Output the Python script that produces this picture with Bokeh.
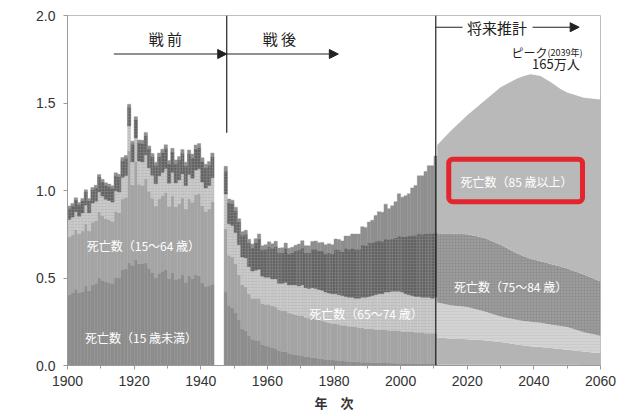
from bokeh.plotting import figure
from bokeh.models import (ColumnDataSource, Range1d, FixedTicker, NumeralTickFormatter,
                          Label, Arrow, NormalHead, BoxAnnotation, Span)
from bokeh.transform import stack
from bokeh.embed import file_html
from bokeh.resources import INLINE

# ---------------- data (millions of deaths) ----------------
pre_years = list(range(1900, 1944))
pre_u15 = [.404, .414, .436, .415, .423, .454, .426, .461, .468, .502, .487, .477, .473, .468, .503,
           .500, .546, .551, .588, .573, .605, .581, .580, .587, .556, .531, .501, .527, .539, .549,
           .495, .528, .489, .497, .517, .476, .511, .497, .517, .515, .473, .451, .454, .465]
pre_15_64 = [.330, .333, .340, .336, .345, .355, .342, .358, .360, .375, .368, .362, .360, .356, .378,
             .375, .405, .410, .640, .460, .560, .455, .450, .480, .440, .425, .410, .425, .430, .440,
             .415, .440, .420, .428, .440, .418, .442, .436, .460, .468, .440, .430, .440, .470]
pre_65_74 = [.100, .101, .103, .102, .104, .108, .104, .109, .110, .115, .113, .111, .110, .110, .117,
             .116, .124, .125, .140, .130, .135, .132, .133, .137, .133, .131, .128, .133, .135, .137,
             .132, .137, .134, .135, .138, .134, .138, .137, .140, .141, .136, .134, .135, .138]
pre_75_84 = [.065, .066, .068, .066, .070, .074, .070, .076, .078, .085, .082, .080, .080, .079, .088,
             .087, .097, .098, .108, .102, .105, .104, .106, .110, .108, .106, .104, .110, .113, .116,
             .110, .116, .112, .114, .118, .113, .119, .117, .121, .122, .116, .113, .115, .118]
pre_85 = [.012, .012, .012, .012, .013, .013, .013, .013, .014, .014, .014, .014, .014, .014, .015,
          .015, .016, .016, .017, .017, .017, .017, .018, .018, .018, .018, .018, .019, .019, .019,
          .019, .020, .020, .020, .021, .021, .021, .021, .022, .022, .022, .022, .022, .023]

post_years = list(range(1947, 2011))
post_u15 = [.42, .34, .33, .30, .26, .21, .20, .17, .15, .145, .14, .12, .115, .11, .10, .095, .085,
            .08, .08, .07, .065, .06, .058, .055, .05, .048, .046, .044, .04, .038, .035, .033, .031,
            .03, .028, .026, .025, .023, .022, .021, .02, .019, .018, .018, .017, .016, .016, .015,
            .015, .014, .013, .013, .012, .012, .011, .011, .011, .010, .010, .010, .009, .009, .009, .008]
post_15_64 = [.36, .29, .29, .28, .26, .25, .25, .24, .235, .24, .245, .235, .235, .24, .24, .24, .235,
              .235, .235, .23, .23, .23, .227, .23, .225, .222, .224, .221, .22, .217, .215, .212, .209,
              .21, .207, .204, .205, .202, .203, .199, .195, .196, .192, .192, .193, .189, .189, .19,
              .19, .186, .187, .187, .188, .183, .184, .184, .184, .18, .18, .18, .176, .176, .176, .177]
post_65_74 = [.20, .18, .18, .18, .17, .16, .165, .155, .155, .16, .165, .155, .155, .155, .155, .16, .15,
              .155, .16, .16, .165, .17, .17, .175, .17, .17, .175, .175, .175, .175, .17, .17, .17,
              .17, .17, .17, .165, .165, .165, .165, .17, .175, .18, .185, .19, .20, .205, .205,
              .215, .22, .225, .225, .225, .225, .215, .21, .205, .205, .205, .20, .205, .205, .20, .205]
post_75_84 = [.13, .12, .125, .125, .13, .125, .135, .135, .135, .155, .175, .15, .16, .175, .175, .185,
              .175, .175, .195, .18, .185, .195, .205, .215, .20, .205, .22, .225, .22, .225, .22, .23,
              .23, .255, .255, .25, .275, .275, .28, .28, .28, .30, .295, .305, .30, .305, .305, .30,
              .305, .30, .30, .305, .315, .315, .325, .335, .345, .35, .36, .36, .365, .365, .37, .37]
post_85 = [.028, .021, .020, .020, .019, .020, .023, .021, .019, .025, .027, .024, .025, .027, .026,
           .030, .026, .028, .030, .030, .031, .032, .034, .038, .040, .039, .044, .046, .047, .048,
           .050, .051, .050, .058, .060, .062, .070, .075, .082, .086, .086, .103, .104, .120, .130,
           .147, .164, .166, .197, .176, .188, .206, .242, .227, .235, .242, .270, .284, .329, .334,
           .353, .387, .387, .437]

fut_years = [2011, 2015, 2020, 2025, 2030, 2035, 2037, 2039, 2042, 2045, 2048, 2050, 2055, 2060]
fut_u15 = [.006, .006, .005, .005, .005, .004, .004, .004, .004, .004, .004, .004, .003, .003]
fut_15_64 = [.154, .149, .145, .140, .130, .116, .111, .106, .102, .096, .090, .086, .077, .067]
fut_65_74 = [.200, .190, .185, .165, .145, .140, .140, .140, .138, .135, .132, .130, .110, .100]
fut_75_84 = [.395, .410, .415, .420, .410, .380, .370, .360, .352, .345, .340, .335, .330, .310]
fut_85 = [.505, .585, .680, .780, .900, 1.000, 1.030, 1.055, 1.059, 1.040, 1.014, 1.005, 1.010, 1.040]

x_ticks = list(range(1900, 2061, 20))
y_ticks = [0.0, 0.5, 1.0, 1.5, 2.0]

layers = ["u15", "a15", "a65", "a75", "a85"]
past_colors = ["#8d8d8d", "#a4a4a4", "#c7c7c7", "#626262", "#8f8f8f"]
fut_colors = ["#a9a9a9", "#b4b4b4", "#d3d3d3", "#9c9c9c", "#b9b9b9"]
hatch = [dict(), dict(),
         dict(hatch_pattern="-", hatch_color="#a8a8a8", hatch_alpha=0.6, hatch_scale=3, hatch_weight=0.6),
         dict(hatch_pattern="+", hatch_color="#9a9a9a", hatch_alpha=0.6, hatch_scale=3, hatch_weight=0.6),
         dict()]
fut_hatch = [dict(), dict(),
             dict(hatch_pattern="-", hatch_color="#bdbdbd", hatch_alpha=0.6, hatch_scale=3, hatch_weight=0.6),
             dict(hatch_pattern="+", hatch_color="#7d7d7d", hatch_alpha=0.5, hatch_scale=3, hatch_weight=0.6),
             dict()]

# ---------------- figure ----------------
p = figure(width=624, height=414, output_backend="svg", toolbar_location=None,
           x_range=Range1d(1900, 2060), y_range=Range1d(0, 2.0),
           min_border_left=67, min_border_right=24, min_border_top=15, min_border_bottom=49)
p.grid.visible = False
p.outline_line_color = "#bdbdbd"
p.background_fill_color = "white"
p.border_fill_color = "white"


def draw_bars(years, u15, a15, a65, a75, a85):
    src = ColumnDataSource(dict(x=[y + 0.5 for y in years], u15=u15, a15=a15, a65=a65, a75=a75, a85=a85))
    for i, name in enumerate(layers):
        bottom = stack(*layers[:i]) if i else 0
        p.vbar(x="x", width=1.0, bottom=bottom, top=stack(*layers[:i + 1]), source=src,
               fill_color=past_colors[i], line_color=past_colors[i], line_width=0.4, **hatch[i])


draw_bars(pre_years, pre_u15, pre_15_64, pre_65_74, pre_75_84, pre_85)
draw_bars(post_years, post_u15, post_15_64, post_65_74, post_75_84, post_85)

fsrc = ColumnDataSource(dict(x=fut_years, u15=fut_u15, a15=fut_15_64, a65=fut_65_74, a75=fut_75_84, a85=fut_85))
for i, name in enumerate(layers):
    y1 = stack(*layers[:i]) if i else 0
    p.varea(x="x", y1=y1, y2=stack(*layers[:i + 1]), source=fsrc, fill_color=fut_colors[i], **fut_hatch[i])

# ---------------- axes ----------------
p.xaxis.ticker = FixedTicker(ticks=x_ticks, minor_ticks=list(range(1900, 2061, 10)))
p.yaxis.ticker = FixedTicker(ticks=y_ticks, minor_ticks=[])
p.yaxis.formatter = NumeralTickFormatter(format="0.0")
for ax in (p.xaxis, p.yaxis):
    ax.major_label_text_font = "Liberation Sans"
    ax.major_label_text_font_size = "14px"
    ax.major_label_text_color = "#333333"
    ax.axis_line_color = "#9a9a9a"
    ax.major_tick_line_color = "#9a9a9a"
    ax.minor_tick_line_color = "#9a9a9a"
    ax.major_tick_out = 4
    ax.major_tick_in = 0
    ax.minor_tick_out = 3
    ax.minor_tick_in = 0
p.yaxis.major_label_standoff = 8
p.xaxis.major_label_standoff = 6
p.xaxis.axis_label = "年　次"
p.xaxis.axis_label_text_font = "Noto Sans CJK JP"
p.xaxis.axis_label_text_font_style = "bold"
p.xaxis.axis_label_text_font_size = "13px"
p.xaxis.axis_label_text_color = "#333333"
p.xaxis.axis_label_standoff = 4

CJK = "Noto Sans CJK JP"

# vertical y-axis title, one character per row
ylab_chars = ["動", "態", "数", "︵", "百", "万", "人", "︶"]
ylab_pix = [128, 141, 154, 166, 178, 190, 202, 212]
for ch, py in zip(ylab_chars, ylab_pix):
    p.add_layout(Label(x=1886.5, y=(365 - py) / 175.0, text=ch, text_font=CJK, text_font_size="13px",
                       text_font_style="bold", text_color="#333333", text_align="center",
                       text_baseline="middle"))

# ---------------- separators and arrows ----------------
war_x = 1947.8
proj_x = 2010.55
p.segment(x0=[war_x], y0=[1.33], x1=[war_x], y1=[2.0], line_color="#222222", line_width=1.2)
p.add_layout(Span(location=proj_x, dimension="height", line_color="#222222", line_width=1.2))

head = dict(size=9, fill_color="#222222", line_color="#222222")
p.add_layout(Arrow(end=NormalHead(**head), x_start=1913.9, y_start=1.78, x_end=war_x, y_end=1.78,
                   line_color="#222222", line_width=1.2))
p.add_layout(Arrow(end=NormalHead(**head), x_start=war_x, y_start=1.78, x_end=1981.3, y_end=1.78,
                   line_color="#222222", line_width=1.2))
p.segment(x0=[proj_x], y0=[1.933], x1=[2018.6], y1=[1.933], line_color="#222222", line_width=1.2)
p.add_layout(Arrow(end=NormalHead(**head), x_start=2039.6, y_start=1.933, x_end=2053.6, y_end=1.933,
                   line_color="#222222", line_width=1.2))

def lab(x, y, text, size="14px", color="#222222", align="center", style="normal"):
    p.add_layout(Label(x=x, y=y, text=text, text_font=CJK, text_font_size=size, text_color=color,
                       text_align=align, text_baseline="middle", text_font_style=style))

lab(1929.4, 1.866, "戦 前", "15px")
lab(1963.6, 1.866, "戦 後", "15px")
lab(2028.9, 1.933, "将来推計", "15px")
lab(2044.1, 1.79, "ピーク", "12px", align="right")
lab(2044.1, 1.79, "(2039年)", "9px", align="left")
lab(2046.6, 1.724, "165万人", "13px")

# red highlight box
p.add_layout(BoxAnnotation(left=2014.45, right=2054.6, bottom=0.936, top=1.179, fill_alpha=0,
                           line_color="#e3262d", line_alpha=1.0, line_width=5, border_radius=4))

# series labels
white = "#ffffff"
lab(1922.8, 0.687, "死亡数（15～64 歳）", "12px", white)
lab(1922.1, 0.162, "死亡数（15 歳未満）", "12px", white)
lab(1989.6, 0.296, "死亡数（65～74 歳）", "12px", white)
lab(2033.0, 0.452, "死亡数（75～84 歳）", "12px", white)
lab(2034.8, 1.05, "死亡数（85 歳以上）", "12px", white)

open("out.html", "w").write(file_html(p, INLINE))
